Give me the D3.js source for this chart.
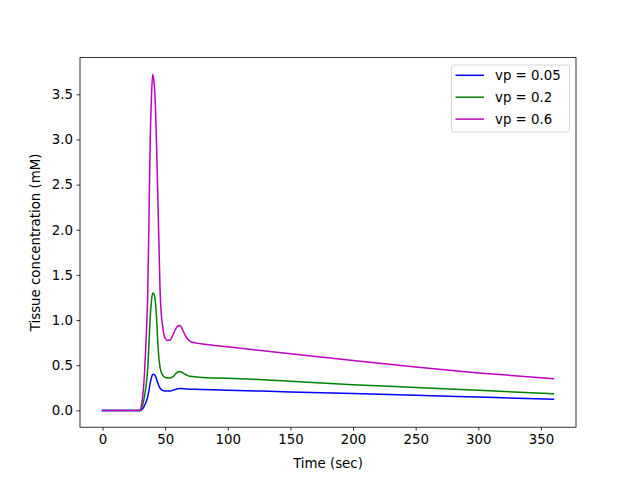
<!DOCTYPE html>
<html>
<head>
<meta charset="utf-8">
<script src="https://cdn.jsdelivr.net/npm/d3@7"></script>
<style>
  body { margin: 0; background: #fff; }
  text { font-family: "DejaVu Sans", sans-serif; }
</style>
</head>
<body>
<script>
const times = [0,29,30,31,32,33,34,35,36,37,38,39,40,41,42,43,44,45,46,47,48,49,50,52,54,56,58,60,62,64,66,68,70,75,80,100,150,200,250,300,360];
const vp005 = [0,0,0,0.005,0.02,0.04,0.07,0.1,0.15,0.22,0.3,0.36,0.395,0.40,0.385,0.35,0.31,0.27,0.245,0.23,0.222,0.218,0.216,0.215,0.216,0.222,0.232,0.24,0.243,0.241,0.238,0.236,0.235,0.233,0.231,0.224,0.205,0.187,0.168,0.148,0.123];
const vp02 = [0,0,0,0.02,0.06,0.12,0.2,0.3,0.45,0.72,1.02,1.2,1.30,1.29,1.22,1.05,0.78,0.58,0.47,0.42,0.39,0.375,0.365,0.36,0.36,0.37,0.40,0.425,0.43,0.415,0.40,0.385,0.378,0.37,0.365,0.357,0.322,0.285,0.253,0.222,0.185];
const vp06 = [0,0,0,0.05,0.15,0.3,0.55,0.85,1.25,2.05,2.95,3.45,3.72,3.65,3.45,3.0,2.45,1.85,1.3,1.05,0.93,0.84,0.8,0.775,0.78,0.83,0.89,0.935,0.94,0.89,0.83,0.79,0.765,0.745,0.735,0.704,0.628,0.553,0.48,0.415,0.351];
const seriesNames = ["vp = 0.05", "vp = 0.2", "vp = 0.6"];
const seriesColors = ["#0000ff", "#008000", "#bf00bf"];
const xTicks = [0,50,100,150,200,250,300,350];
const yTicks = [0,0.5,1.0,1.5,2.0,2.5,3.0,3.5];

const W = 640, H = 480;
const L = 80, R = 576, T = 57.6, B = 427.2;
const svg = d3.select("body").append("svg").attr("width", W).attr("height", H);

const allY = vp005.concat(vp02, vp06);
const yMin = d3.min(allY), yMax = d3.max(allY);
const ym = (yMax - yMin) * 0.05;
const xMin = d3.min(times), xMax = d3.max(times);
const xm = (xMax - xMin) * 0.05;

const x = d3.scaleLinear().domain([xMin - xm, xMax + xm]).range([L, R]);
const y = d3.scaleLinear().domain([yMin - ym, yMax + ym]).range([B, T]);

const data = [vp005, vp02, vp06];
const line = d3.line().x((d, i) => x(times[i])).y(d => y(d)).curve(d3.curveMonotoneX);

const g = svg.append("g");
data.forEach((s, k) => {
  g.append("path").datum(s).attr("d", line).attr("fill", "none")
    .attr("stroke", seriesColors[k]).attr("stroke-width", 1.5)
    .attr("stroke-linejoin", "round").attr("stroke-linecap", "square");
});

// axes
const xAxis = d3.axisBottom(x).tickValues(xTicks).tickSize(3.5).tickPadding(3.5).tickFormat(d3.format("d"));
const yAxis = d3.axisLeft(y).tickValues(yTicks).tickSize(3.5).tickPadding(3.5).tickFormat(d3.format(".1f"));
const gx = svg.append("g").attr("transform", `translate(0,${B})`).call(xAxis);
const gy = svg.append("g").attr("transform", `translate(${L},0)`).call(yAxis);
[gx, gy].forEach(a => {
  a.select(".domain").remove();
  a.selectAll("line").attr("stroke", "#000").attr("stroke-width", 0.8);
  a.selectAll("text").attr("font-size", "13.33px").attr("fill", "#000").attr("font-family", "DejaVu Sans");
});
svg.append("rect").attr("x", L).attr("y", T).attr("width", R - L).attr("height", B - T)
  .attr("fill", "none").attr("stroke", "#000").attr("stroke-width", 0.8);

svg.append("text").attr("x", (L + R) / 2).attr("y", 468).attr("text-anchor", "middle")
  .attr("font-size", "13.33px").text("Time (sec)");
svg.append("text").attr("transform", `translate(39.5,${(T + B) / 2}) rotate(-90)`)
  .attr("text-anchor", "middle").attr("font-size", "13.33px").text("Tissue concentration (mM)");

// legend
const lg = svg.append("g");
lg.append("rect").attr("x", 451.5).attr("y", 65).attr("width", 118).attr("height", 67)
  .attr("rx", 2.5).attr("fill", "#fff").attr("fill-opacity", 0.8).attr("stroke", "#cccccc").attr("stroke-width", 0.8);
seriesNames.forEach((n, k) => {
  const yy = 75.3 + k * 21.9;
  lg.append("line").attr("x1", 455.5).attr("x2", 484).attr("y1", yy).attr("y2", yy)
    .attr("stroke", seriesColors[k]).attr("stroke-width", 1.5);
  lg.append("text").attr("x", 495).attr("y", yy).attr("dy", "0.35em").attr("font-size", "13.33px").text(n);
});
</script>
</body>
</html>
